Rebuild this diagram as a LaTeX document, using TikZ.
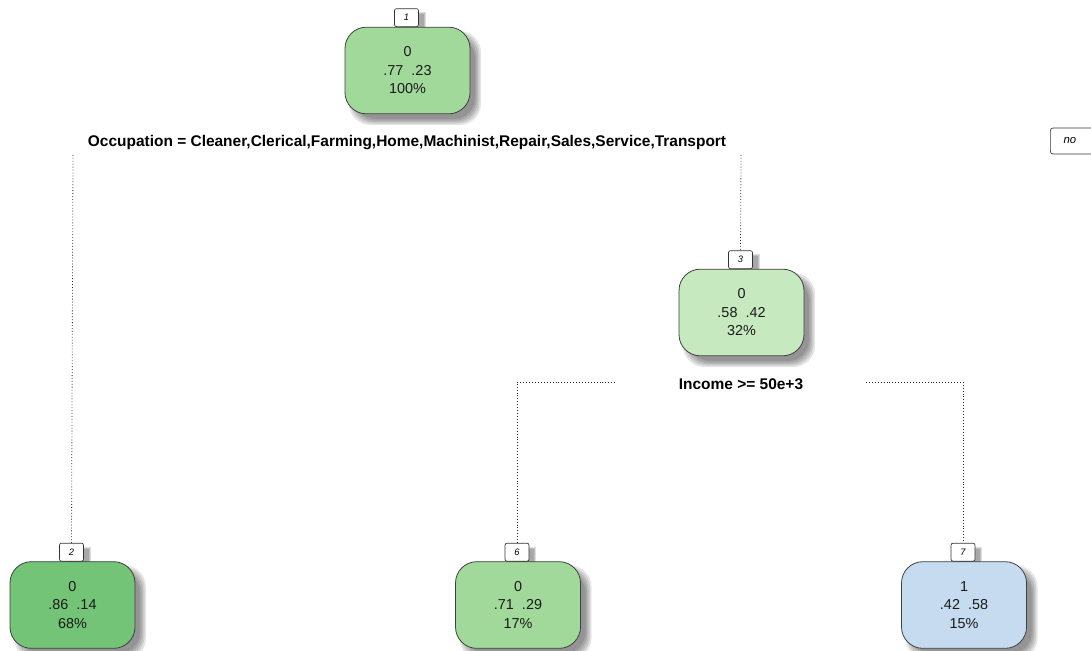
\documentclass[tikz,border=0pt]{standalone}
\usepackage{fontspec}
\setmainfont{Liberation Sans}
\definecolor{gA}{HTML}{A1D99B}
\definecolor{gB}{HTML}{73C476}
\definecolor{gC}{HTML}{C7E9C0}
\definecolor{bD}{HTML}{C6DBEF}
\definecolor{txt}{HTML}{1A1A1A}
\tikzset{
  tn/.style={draw=black!75, line width=0.6pt, rounded corners=16pt, minimum width=93.75pt,
    minimum height=65pt, inner sep=0pt, align=center, font=\fontsize{10.8}{13.9}\selectfont, text=txt},
  lbl/.style={draw=black!80, line width=0.5pt, fill=white, rounded corners=1.5pt, minimum width=18pt,
    minimum height=13.5pt, inner sep=0pt, font=\fontsize{7}{8}\selectfont\itshape},
  splitlab/.style={font=\fontsize{11.6}{13}\selectfont\bfseries, text=black, inner sep=1pt},
  dotline/.style={draw=black!85, line width=0.6pt, dash pattern=on 0.6pt off 1.6pt},
  nobox/.style={draw=black!80, line width=0.5pt, fill=white, rounded corners=2pt, minimum height=19.5pt,
    inner xsep=10pt, text width=20pt, align=left, font=\fontsize{8.5}{9}\selectfont\itshape}
}
\newcommand\treenode[8]{%
\begin{scope}[shift={(#2,#3)}]
  \foreach \s in {0,1.5,3,4.5,6}{%
    \fill[black,opacity=0.1,rounded corners=16pt] (-58.5+\s,-39.5+\s) rectangle (73.5-\s,54.5-\s);}
  \foreach \s in {0,1,2}{%
    \fill[black,opacity=0.13] (-7+\s,-58.5+\s) rectangle (18-\s,-43.5);}
  \node[tn, fill=#4] (#1) at (0,0) {#6\\#7\\#8};
  \node[lbl, anchor=south] (#1n) at (-1,-43.5) {#5};
\end{scope}}
\begin{document}
\begin{tikzpicture}[x=0.75pt,y=-0.75pt]
  \clip (0,0) rectangle (1091,650);
  \fill[white] (0,0) rectangle (1091,650);
  \node[splitlab] (s1) at (407,142.5) {Occupation = Cleaner,Clerical,Farming,Home,Machinist,Repair,Sales,Service,Transport};
  \node[splitlab] (s3) at (741,384.5) {Income >= 50e+3};
  \treenode{n1}{407.5}{70.5}{gA}{1}{0}{.77\ \ .23}{100\%}
  \treenode{n3}{741.5}{312.5}{gC}{3}{0}{.58\ \ .42}{32\%}
  \treenode{n2}{72.5}{605}{gB}{2}{0}{.86\ \ .14}{68\%}
  \treenode{n6}{518}{605}{gA}{6}{0}{.71\ \ .29}{17\%}
  \treenode{n7}{964}{605}{bD}{7}{1}{.42\ \ .58}{15\%}
  \coordinate (c1l) at (73,155);
  \coordinate (c1r) at (741,155);
  \coordinate (c3l) at (615,382);
  \coordinate (c3r) at (866,382);
  \draw[dotline] (c1l) -- (n2n.north);
  \draw[dotline] (c1r) -- (n3n.north);
  \draw[dotline] (c3l) -| (n6n.north);
  \draw[dotline] (c3r) -| (n7n.north);
  \node[nobox, anchor=west] (no) at (1050,141) {no};
\end{tikzpicture}
\end{document}
